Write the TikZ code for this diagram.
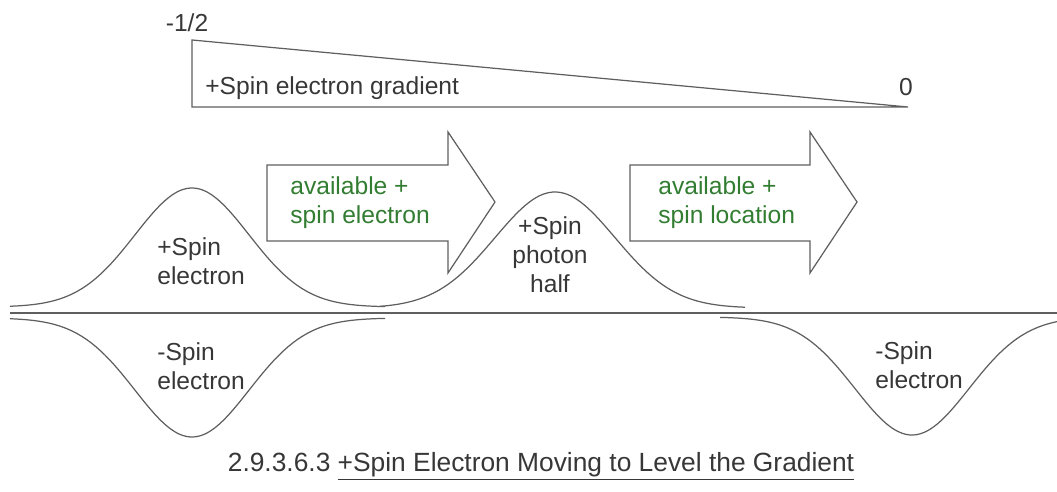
\documentclass[tikz,border=0pt]{standalone}
\usepackage{fontspec}
\setmainfont{Liberation Sans}
\usepackage{xcolor}
\definecolor{inkgray}{RGB}{55,55,55}
\definecolor{linegray}{RGB}{95,95,95}
\definecolor{labelgreen}{RGB}{50,125,50}

\begin{document}
\begin{tikzpicture}[
  x=0.02cm, y=-0.02cm,
  lbl/.style={inner sep=0pt, align=left, text=inkgray, font=\fontsize{14}{16.5}\selectfont},
  glbl/.style={lbl, text=labelgreen},
  outline/.style={draw=linegray, line width=0.7pt},
  wave/.style={draw=linegray, line width=0.7pt}
]
  \useasboundingbox (0,0) rectangle (1057,492);

  % gradient wedge
  \draw[outline] (192,40) -- (192,107) -- (908,107) -- cycle;
  \node[lbl] (half) at (187,23) {-1/2};
  \node[lbl, anchor=west] (grad) at (205,88) {+Spin electron gradient};
  \node[lbl] (zero) at (906,87) {0};

  % block arrows
  \draw[outline] (267,165) -- (448,165) -- (448,132) -- (495,202) -- (448,273) -- (448,241) -- (267,241) -- cycle;
  \node[glbl, anchor=west] (avail1) at (290,203) {available +\\spin electron};
  \draw[outline] (630,165) -- (810,165) -- (810,132) -- (857,202) -- (810,273) -- (810,241) -- (630,241) -- cycle;
  \node[glbl, anchor=west] (avail2) at (658,203) {available +\\spin location};

  % axis
  \draw[linegray, line width=0.9pt] (10,313) -- (1057,313);

  % spin curves
  \draw[wave] plot[domain=10:385, samples=90, smooth] (\x, {307-119*exp(-0.5*((\x-192)/57)^2)});
  \draw[wave] plot[domain=10:385, samples=90, smooth] (\x, {318+119*exp(-0.5*((\x-192)/57)^2)});
  \draw[wave] plot[domain=380:745, samples=90, smooth] (\x, {308-116*exp(-0.5*((\x-555)/60)^2)});
  \draw[wave] plot[domain=720:1057, samples=90, smooth] (\x, {317+118*exp(-0.5*((\x-912)/57)^2)});

  \node[lbl, anchor=west] (pluse) at (157,261) {+Spin\\electron};
  \node[lbl, anchor=west] (minuse) at (157,366) {-Spin\\electron};
  \node[lbl, align=center] (photon) at (550,255) {+Spin\\photon\\half};
  \node[lbl, anchor=west] (minuse2) at (875,365) {-Spin\\electron};

  % caption
  \node[lbl, font=\fontsize{15}{18}\selectfont] (caption) at (541,466) {2.9.3.6.3 \underline{+Spin Electron Moving to Level the Gradient}};
\end{tikzpicture}
\end{document}
